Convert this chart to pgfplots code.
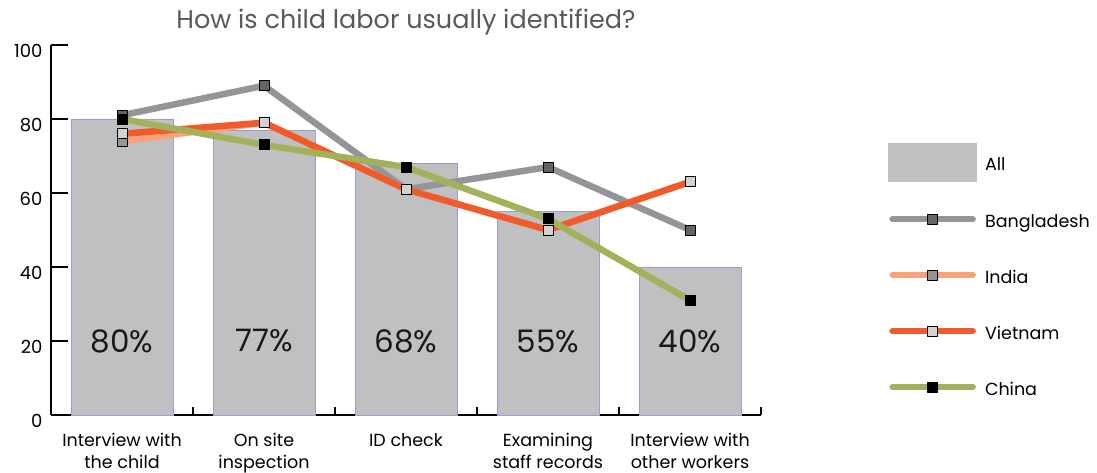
\documentclass[border=0pt]{standalone}
\usepackage{pgfplots}
\pgfplotsset{compat=1.18}
\usepackage{fontspec}
\setmainfont{Poppins}

\definecolor{bargray}{HTML}{BFC0C2}
\definecolor{baredge}{HTML}{A09CD2}
\definecolor{bdline}{HTML}{939598}
\definecolor{bdmark}{HTML}{636466}
\definecolor{inline}{HTML}{F9A27A}
\definecolor{inmark}{HTML}{939598}
\definecolor{vnline}{HTML}{F15A2B}
\definecolor{vnmark}{HTML}{D1D2D4}
\definecolor{cnline}{HTML}{A3B25A}
\definecolor{titlegray}{HTML}{595959}

\pgfplotsset{
  linelegend/.style={legend image code/.code={
    \path[draw=none,fill=none] (0pt,-19pt) rectangle (88pt,19pt);
    \draw[mark repeat=2,mark phase=2,##1,line cap=round] plot coordinates {(4pt,0pt) (44pt,0pt) (84pt,0pt)};}},
  countryline/.style={line width=6.5pt, mark=square*, mark size=5pt, line join=round,
    mark options={draw=black, line width=0.8pt, solid, fill=#1}, linelegend},
}

\begin{document}
\begin{tikzpicture}
\begin{axis}[
  scale only axis, width=710pt, height=370pt,
  xmin=-0.5, xmax=4.5, ymin=0, ymax=100,
  axis lines*=left,
  axis line style={line width=1.2pt, -},
  xtick={0,...,4},
  xticklabels={{Interview with\\the child},{On site\\inspection},{ID check},{Examining\\staff records},{Interview with\\other workers}},
  major x tick style={draw=none},
  minor xtick={0.5,1.5,2.5,3.5,4.5},
  minor tick length=8pt,
  major tick length=17pt,
  ytick={0,20,...,100},
  tick style={black, line width=1.2pt},
  tick align=inside,
  xticklabel style={font=\fontsize{17.5}{22}\selectfont, align=center, yshift=-15pt},
  yticklabel style={font=\fontsize{18}{20}\selectfont, yshift=-6pt, xshift=-5pt},
  /pgf/number format/assume math mode=true,
  title={How is child labor usually identified?},
  title style={font=\fontsize{25.5}{30}\selectfont, color=titlegray, at={(0.5,1)}, anchor=center, yshift=17pt},
  legend style={at={(1.1789,0.735)}, anchor=north west, draw=none, fill=none,
    inner sep=0pt, row sep=18pt, column sep=6pt, font=\fontsize{17.5}{20}\selectfont},
  legend cell align=left,
  clip=false,
]
\coordinate (O) at (rel axis cs:0,0);
\addplot[ybar, bar width=102pt, fill=bargray, draw=baredge, line width=0.8pt,
  legend image code/.code={\fill[bargray] (0pt,-19pt) rectangle (88pt,19pt);}]
  coordinates {(0,80) (1,77) (2,68) (3,55) (4,40)};
\addlegendentry{\raisebox{-5pt}{All}}
\addplot[color=bdline, countryline=bdmark] coordinates {(0,81) (1,89) (2,61) (3,67) (4,50)};
\addlegendentry{\raisebox{-5pt}{Bangladesh}}
\addplot[color=inline, countryline=inmark] coordinates {(0,74) (1,79) (2,61) (3,50) (4,63)};
\addlegendentry{\raisebox{-5pt}{India}}
\addplot[color=vnline, countryline=vnmark] coordinates {(0,76) (1,79) (2,61) (3,50) (4,63)};
\addlegendentry{\raisebox{-5pt}{Vietnam}}
\addplot[color=cnline, countryline=black] coordinates {(0,80) (1,73) (2,67) (3,53) (4,31)};
\addlegendentry{\raisebox{-5pt}{China}}
\addplot[only marks, mark=none, forget plot, point meta=explicit,
  nodes near coords={\pgfmathprintnumber{\pgfplotspointmeta}\%},
  every node near coord/.style={anchor=center, font=\fontsize{31}{36}\selectfont, color=black!90}]
  coordinates {(0,20)[80] (1,20)[77] (2,20)[68] (3,20)[55] (4,20)[40]};
\end{axis}
\pgfresetboundingbox
\path ([shift={(-51pt,-58pt)}]O) rectangle ([shift={(1046pt,415pt)}]O);
\end{tikzpicture}
\end{document}
